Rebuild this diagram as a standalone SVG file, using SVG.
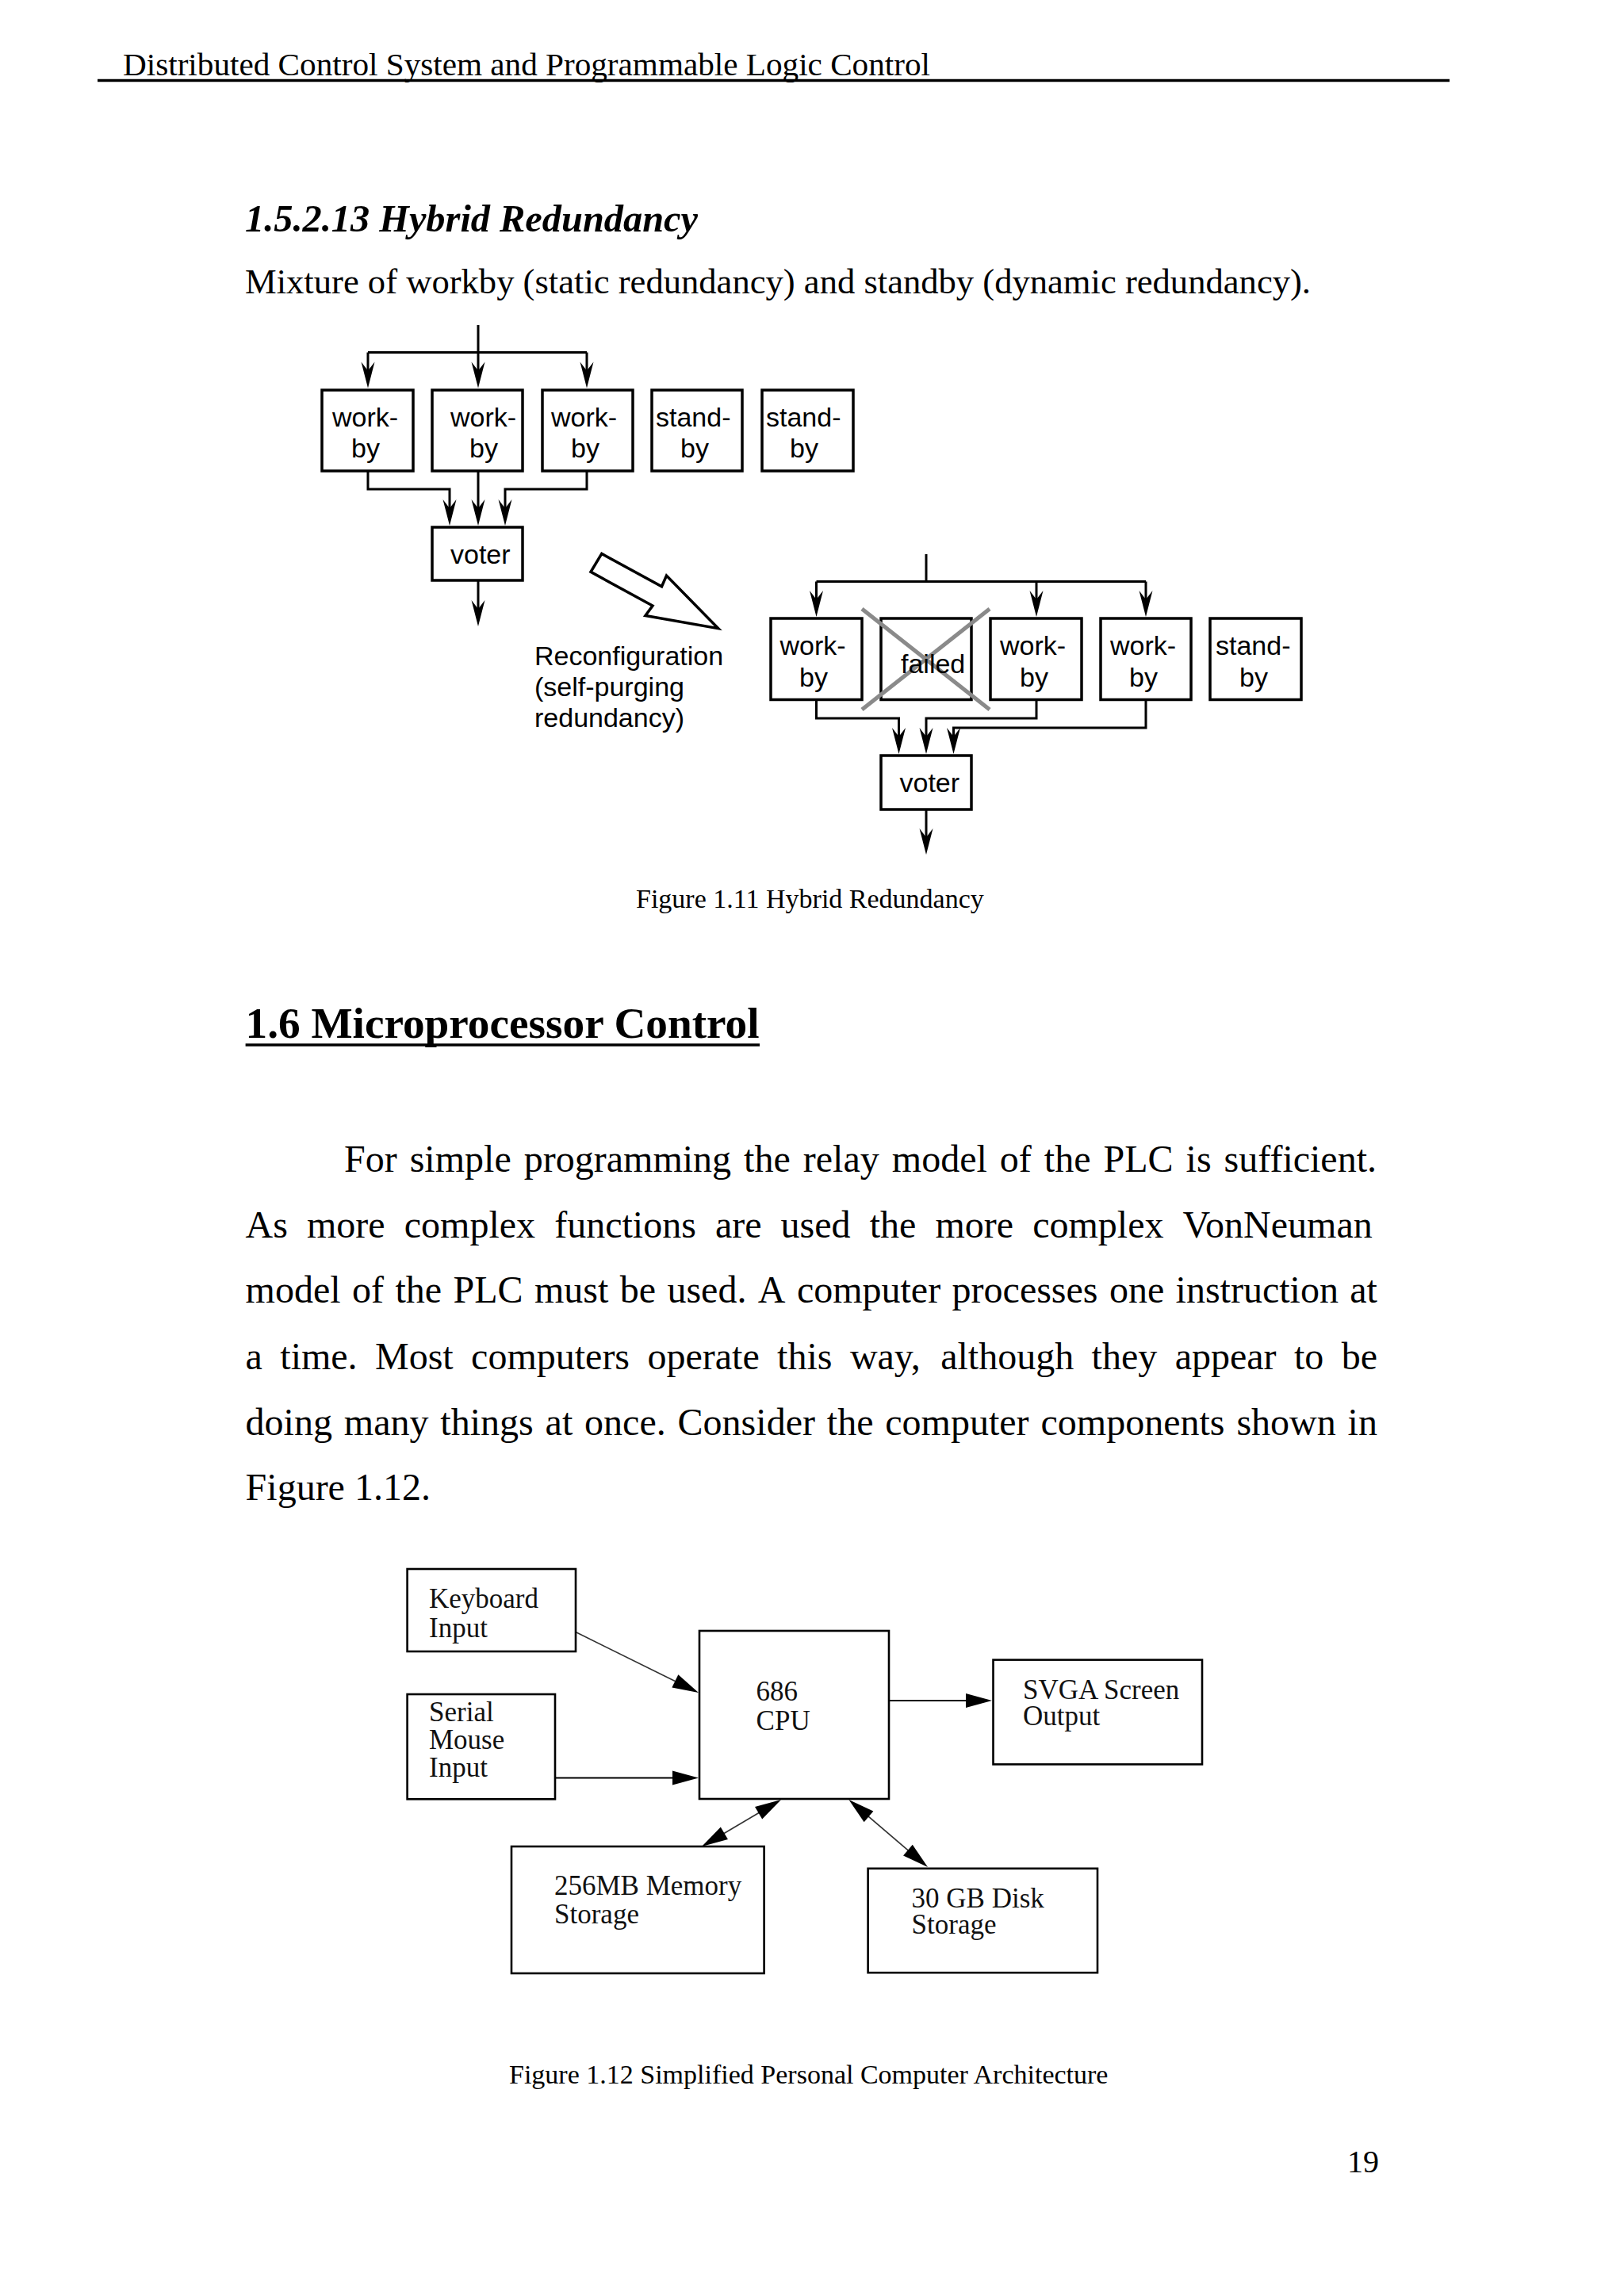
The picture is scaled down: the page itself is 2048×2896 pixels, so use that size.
<svg xmlns="http://www.w3.org/2000/svg" width="2048" height="2896" viewBox="0 0 2048 2896">
<defs>
<style>
.serif{font-family:"Liberation Serif","Times New Roman",serif;fill:#000}
.sans{font-family:"Liberation Sans",Arial,sans-serif;font-size:34px;fill:#000}
.fig12{font-family:"Liberation Serif","Times New Roman",serif;font-size:35px;fill:#111}
.box{fill:#fff;stroke:#000;stroke-width:3.5}
.box2{fill:#fff;stroke:#000;stroke-width:2.6}
.wire{fill:none;stroke:#000;stroke-width:3}
.wire2{fill:none;stroke:#000;stroke-width:2.2}
.thin{fill:none;stroke:#333;stroke-width:1.7}
.para{font-family:"Liberation Serif","Times New Roman",serif;font-size:48px;fill:#000}
</style>
<marker id="ah1" viewBox="-35 -10 37 20" markerWidth="37" markerHeight="20" refX="-12" refY="0" orient="auto" markerUnits="userSpaceOnUse">
<path d="M0,0 L-33,-8.5 L-22,0 L-33,8.5 Z" fill="#000"/>
</marker>
<marker id="ah2" viewBox="-35 -10 37 20" markerWidth="37" markerHeight="20" refX="-15" refY="0" orient="auto-start-reverse" markerUnits="userSpaceOnUse">
<path d="M0,0 L-33,-9 L-33,9 Z" fill="#000"/>
</marker>
</defs>
<rect x="0" y="0" width="2048" height="2896" fill="#fff"/>

<g id="page-header">
<text class="serif" x="155" y="95" font-size="41" textLength="1018" lengthAdjust="spacingAndGlyphs">Distributed Control System and Programmable Logic Control</text>
<line x1="123" y1="101.5" x2="1828" y2="101.5" stroke="#000" stroke-width="3.5"/>
</g>

<g id="section-1-5-2-13">
<text class="serif" x="309" y="292" font-size="48" font-weight="bold" font-style="italic" textLength="571" lengthAdjust="spacingAndGlyphs">1.5.2.13 Hybrid Redundancy</text>
<text class="serif" x="309" y="370" font-size="44" textLength="1344" lengthAdjust="spacingAndGlyphs">Mixture of workby (static redundancy) and standby (dynamic redundancy).</text>
</g>

<!-- Figure 1.11 -->
<g id="fig11-connectors">
<path class="wire" d="M603,410 V477.5" marker-end="url(#ah1)"/>
<path class="wire" d="M464,444.5 H740"/>
<path class="wire" d="M464,444.5 V477.5" marker-end="url(#ah1)"/>
<path class="wire" d="M740,444.5 V477.5" marker-end="url(#ah1)"/>
<path class="wire" d="M464,594 V617 H567 V651" marker-end="url(#ah1)"/>
<path class="wire" d="M603,594 V651" marker-end="url(#ah1)"/>
<path class="wire" d="M740,594 V617 H637 V651" marker-end="url(#ah1)"/>
<path class="wire" d="M603,732 V778" marker-end="url(#ah1)"/>

<path class="wire" d="M1168,699 V733.5"/>
<path class="wire" d="M1029.5,733.5 H1445"/>
<path class="wire" d="M1029.5,733.5 V766" marker-end="url(#ah1)"/>
<path class="wire" d="M1307,733.5 V766" marker-end="url(#ah1)"/>
<path class="wire" d="M1445,733.5 V766" marker-end="url(#ah1)"/>
<path class="wire" d="M1029.5,882.5 V906 H1133.5 V939" marker-end="url(#ah1)"/>
<path class="wire" d="M1307,882.5 V906 H1168 V939" marker-end="url(#ah1)"/>
<path class="wire" d="M1445,882.5 V918 H1202.5 V939" marker-end="url(#ah1)"/>
<path class="wire" d="M1168,1021 V1066" marker-end="url(#ah1)"/>
</g>

<g id="fig11-L-work1"><rect class="box" x="406" y="492" width="115" height="102"/><text class="sans" x="419" y="538">work-</text><text class="sans" x="443" y="577">by</text></g>
<g id="fig11-L-work2"><rect class="box" x="545" y="492" width="114" height="102"/><text class="sans" x="568" y="538">work-</text><text class="sans" x="592" y="577">by</text></g>
<g id="fig11-L-work3"><rect class="box" x="684" y="492" width="114" height="102"/><text class="sans" x="695" y="538">work-</text><text class="sans" x="720" y="577">by</text></g>
<g id="fig11-L-stand1"><rect class="box" x="822" y="492" width="114" height="102"/><text class="sans" x="827" y="538">stand-</text><text class="sans" x="858" y="577">by</text></g>
<g id="fig11-L-stand2"><rect class="box" x="961" y="492" width="115" height="102"/><text class="sans" x="966" y="538">stand-</text><text class="sans" x="996" y="577">by</text></g>
<g id="fig11-L-voter"><rect class="box" x="545" y="665" width="114" height="67"/><text class="sans" x="568" y="711">voter</text></g>

<g id="fig11-reconfig-arrow">
<polygon points="758.8,698.4 745,721.4 823,764 813.9,776.5 905.7,792.6 840.5,726 834.5,739.8" fill="#fff" stroke="#000" stroke-width="3.5" stroke-linejoin="miter"/>
<text class="sans" x="674" y="838.5">Reconfiguration</text>
<text class="sans" x="674" y="877.5">(self-purging</text>
<text class="sans" x="674" y="916.5">redundancy)</text>
</g>

<g id="fig11-R-work1"><rect class="box" x="972" y="780" width="115" height="102.5"/><text class="sans" x="983.5" y="826">work-</text><text class="sans" x="1008" y="866">by</text></g>
<g id="fig11-R-failed"><rect class="box" x="1111" y="780" width="114" height="102.5"/>
<line x1="1087" y1="768" x2="1248" y2="895" stroke="#8a8a8a" stroke-width="5"/>
<line x1="1248" y1="768" x2="1087" y2="895" stroke="#8a8a8a" stroke-width="5"/>
<text class="sans" x="1136" y="849">failed</text></g>
<g id="fig11-R-work3"><rect class="box" x="1249" y="780" width="115" height="102.5"/><text class="sans" x="1261" y="826">work-</text><text class="sans" x="1286" y="866">by</text></g>
<g id="fig11-R-work4"><rect class="box" x="1388" y="780" width="114" height="102.5"/><text class="sans" x="1400" y="826">work-</text><text class="sans" x="1424" y="866">by</text></g>
<g id="fig11-R-stand"><rect class="box" x="1526" y="780" width="115" height="102.5"/><text class="sans" x="1533" y="826">stand-</text><text class="sans" x="1563" y="866">by</text></g>
<g id="fig11-R-voter"><rect class="box" x="1111" y="953" width="114" height="68"/><text class="sans" x="1134.5" y="999">voter</text></g>

<text class="serif" x="802" y="1145" font-size="34">Figure 1.11 Hybrid Redundancy</text>

<g id="section-1-6">
<text class="serif" x="309.6" y="1308.5" font-size="55" font-weight="bold" textLength="648" lengthAdjust="spacingAndGlyphs">1.6 Microprocessor Control</text>
<line x1="309.6" y1="1318" x2="958" y2="1318" stroke="#000" stroke-width="3.5"/>
</g>

<g id="paragraph" class="para">
<text y="1478"><tspan x="434">For</tspan><tspan x="516.7">simple</tspan><tspan x="660.8">programming</tspan><tspan x="938.1">the</tspan><tspan x="1012.8">relay</tspan><tspan x="1124.8">model</tspan><tspan x="1260.8">of</tspan><tspan x="1316.8">the</tspan><tspan x="1391.5">PLC</tspan><tspan x="1495.6">is</tspan><tspan x="1543.6">sufficient.</tspan></text>
<text y="1561"><tspan x="309.6">As</tspan><tspan x="387">more</tspan><tspan x="509.8">complex</tspan><tspan x="699.2">functions</tspan><tspan x="901.9">are</tspan><tspan x="984.6">used</tspan><tspan x="1096.7">the</tspan><tspan x="1179.5">more</tspan><tspan x="1302.2">complex</tspan><tspan x="1491.6">VonNeuman</tspan></text>
<text y="1643.4"><tspan x="309.6">model</tspan><tspan x="444">of</tspan><tspan x="498.4">the</tspan><tspan x="571.5">PLC</tspan><tspan x="673.9">must</tspan><tspan x="781.7">be</tspan><tspan x="841.4">used.</tspan><tspan x="955.8">A</tspan><tspan x="1004.9">computer</tspan><tspan x="1200.6">processes</tspan><tspan x="1398.9">one</tspan><tspan x="1482.6">instruction</tspan><tspan x="1702.3">at</tspan></text>
<text y="1726.6"><tspan x="309.6">a</tspan><tspan x="353.3">time.</tspan><tspan x="473">Most</tspan><tspan x="594.1">computers</tspan><tspan x="816.5">operate</tspan><tspan x="980.1">this</tspan><tspan x="1071.9">way,</tspan><tspan x="1186.2">although</tspan><tspan x="1376.6">they</tspan><tspan x="1481.7">appear</tspan><tspan x="1632">to</tspan><tspan x="1691.7">be</tspan></text>
<text y="1809.8"><tspan x="309.6">doing</tspan><tspan x="433.8">many</tspan><tspan x="555.3">things</tspan><tspan x="687.6">at</tspan><tspan x="737.1">once.</tspan><tspan x="854.6">Consider</tspan><tspan x="1042.8">the</tspan><tspan x="1116.3">computer</tspan><tspan x="1312.5">components</tspan><tspan x="1559.4">shown</tspan><tspan x="1699.6">in</tspan></text>
<text x="309.6" y="1892">Figure 1.12.</text>
</g>

<!-- Figure 1.12 -->
<g id="fig12-connectors">
<path class="thin" d="M726,2058.6 L867.5,2128.4" marker-end="url(#ah2)"/>
<path class="wire2" d="M698,2242.5 H866" marker-end="url(#ah2)"/>
<path class="wire2" d="M1121,2145 H1236" marker-end="url(#ah2)"/>
<path class="thin" d="M897.9,2321.4 L972.1,2277.6" marker-start="url(#ah2)" marker-end="url(#ah2)"/>
<path class="thin" d="M1081.8,2279.7 L1158.6,2345.3" marker-start="url(#ah2)" marker-end="url(#ah2)"/>
</g>

<g id="fig12-keyboard"><rect class="box2" x="513.6" y="1979" width="212.4" height="104"/><text class="fig12" x="541" y="2028">Keyboard</text><text class="fig12" x="541" y="2065">Input</text></g>
<g id="fig12-mouse"><rect class="box2" x="513.6" y="2137" width="186.4" height="132.3"/><text class="fig12" x="541" y="2171">Serial</text><text class="fig12" x="541" y="2205.5">Mouse</text><text class="fig12" x="541" y="2240.7">Input</text></g>
<g id="fig12-cpu"><rect class="box2" x="882" y="2057" width="239" height="212"/><text class="fig12" x="953.6" y="2145">686</text><text class="fig12" x="953.6" y="2182">CPU</text></g>
<g id="fig12-svga"><rect class="box2" x="1252.5" y="2093.6" width="263.5" height="131.8"/><text class="fig12" x="1290" y="2142.5">SVGA Screen</text><text class="fig12" x="1290" y="2176">Output</text></g>
<g id="fig12-memory"><rect class="box2" x="645" y="2329" width="318.6" height="160"/><text class="fig12" x="699" y="2390">256MB Memory</text><text class="fig12" x="699" y="2426">Storage</text></g>
<g id="fig12-disk"><rect class="box2" x="1094.6" y="2356.8" width="289.4" height="131.4"/><text class="fig12" x="1149.6" y="2405.7">30 GB Disk</text><text class="fig12" x="1149.6" y="2439">Storage</text></g>

<text class="serif" x="642" y="2628" font-size="34">Figure 1.12 Simplified Personal Computer Architecture</text>
<text class="serif" x="1739" y="2740" font-size="40" text-anchor="end">19</text>
</svg>
